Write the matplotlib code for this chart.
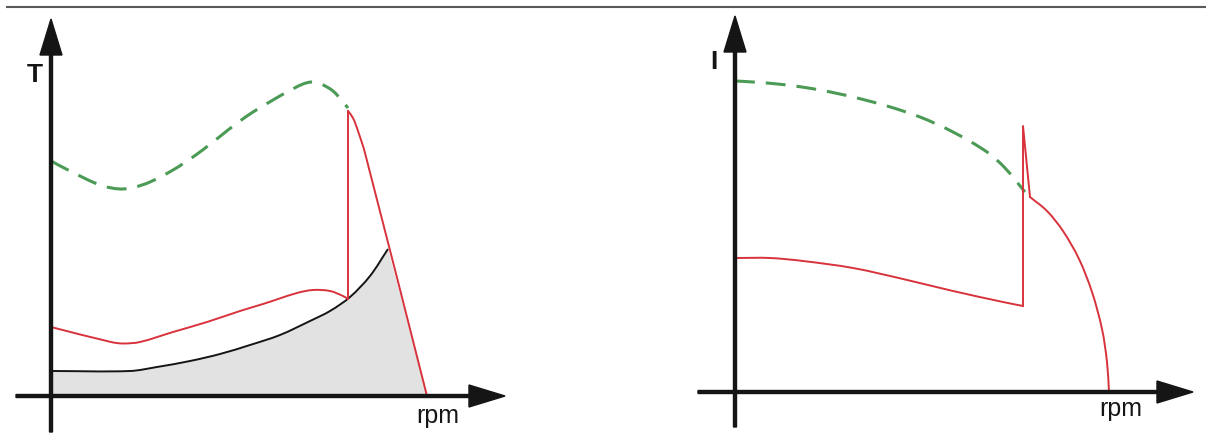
import numpy as np
import matplotlib
matplotlib.use("Agg")
import matplotlib.pyplot as plt
from matplotlib.lines import Line2D
from matplotlib.path import Path
from matplotlib.patches import PathPatch

plt.rcParams['font.family'] = ['Liberation Sans', 'DejaVu Sans']

# torque vs speed (left panel), arbitrary units
t_peak_x = [0, 19, 49, 69, 84, 99, 122, 142, 162, 177, 189, 202, 222, 236, 252, 261, 270, 282, 292, 297]
t_peak_y = [235, 225, 211, 207, 209, 214, 226, 239, 254, 266, 275, 284, 296, 304, 312, 314, 312, 305, 294, 288]

t_boost_x = [297, 302, 307, 314, 376]
t_boost_y = [285, 278, 265, 243, 0]

t_run_x = [0, 60, 72, 89, 122, 156, 189, 212, 246, 262, 279, 292, 297]
t_run_y = [69, 54, 52.5, 54, 64, 74, 85, 92, 103, 106, 105, 100, 97]
t_switch_x = [297, 297]
t_switch_y = [97, 285]

t_load_x = [0, 79, 106, 139, 169, 199, 229, 259, 279, 299, 319, 337]
t_load_y = [25, 25, 29, 35, 42, 51, 61, 75, 85, 99, 120, 147]
t_stop_x = 376

# current vs speed (right panel)
i_peak_x = [0, 18, 52, 85, 118, 152, 185, 218, 252, 270, 290]
i_peak_y = [311, 310, 307, 302, 295, 286, 275, 260, 240, 224, 200]

i_run_x = [0, 35, 68, 118, 168, 218, 268, 288]
i_run_y = [134, 134, 131, 124, 113, 101, 90, 86]
i_spike_x = [288, 288, 295]
i_spike_y = [86, 266, 195]
i_fall_x = [295, 312, 328, 344, 357, 367, 372, 374]
i_fall_y = [195, 181, 161, 133, 100, 63, 30, 0]

GREEN = '#4b9b56'
RED = '#d8323c'
INK = '#151515'


def smooth(x, y):
    # chordal Catmull-Rom through the points, as cubic bezier segments
    p = np.column_stack([x, y]).astype(float)
    dt = np.hypot(*np.diff(p, axis=0).T)
    t = np.r_[0, np.cumsum(dt)]
    m = np.empty_like(p)
    m[0] = (p[1] - p[0]) / dt[0]
    m[-1] = (p[-1] - p[-2]) / dt[-1]
    m[1:-1] = (p[2:] - p[:-2]) / (t[2:] - t[:-2])[:, None]
    verts = [p[0]]
    codes = [Path.MOVETO]
    for i in range(len(p) - 1):
        verts += [p[i] + m[i] * dt[i] / 3, p[i + 1] - m[i + 1] * dt[i] / 3, p[i + 1]]
        codes += [Path.CURVE4] * 3
    return verts, codes


def curve(ax, x, y, **kw):
    verts, codes = smooth(x, y)
    ax.add_patch(PathPatch(Path(verts, codes), fill=False, capstyle='butt', **kw))


fig = plt.figure(figsize=(12.06, 4.35), dpi=100)
fig.add_artist(Line2D([7 / 1206, 1], [1 - 8 / 435, 1 - 8 / 435], color='#5a5a5a', lw=1.5))

ax1 = fig.add_axes([0, 0, 600 / 1206, 421 / 435])
ax1.set_xlim(-51, 549)
ax1.set_ylim(-38, 383)
ax2 = fig.add_axes([603 / 1206, 0, 603 / 1206, 421 / 435])
ax2.set_xlim(-132, 471)
ax2.set_ylim(-42, 379)

for ax in (ax1, ax2):
    ax.set_axis_off()


def draw_axes(ax, x0, x1, y0, y1):
    # 1 data unit == 1 pixel in both directions, so the arrow heads stay square
    kw = dict(width=3, head_width=22, head_length=36, length_includes_head=True,
              color=INK, zorder=5)
    ax.arrow(x0, 0, x1 - x0, 0, **kw)
    ax.arrow(0, y0, 0, y1 - y0, **kw)


dashed = (0, (6.5, 3.6))

# left: torque
verts, codes = smooth(t_load_x, t_load_y)
verts = [(0, 0)] + verts + [(t_stop_x, 0), (0, 0)]
codes = [Path.MOVETO, Path.LINETO] + codes[1:] + [Path.LINETO, Path.CLOSEPOLY]
ax1.add_patch(PathPatch(Path(verts, codes), facecolor='#e2e2e2', lw=0, zorder=1))
curve(ax1, t_load_x, t_load_y, edgecolor=INK, lw=1.4, zorder=3)
curve(ax1, t_peak_x, t_peak_y, edgecolor=GREEN, lw=2.2, linestyle=dashed, zorder=3)
curve(ax1, t_boost_x, t_boost_y, edgecolor=RED, lw=1.4, zorder=4)
curve(ax1, t_run_x, t_run_y, edgecolor=RED, lw=1.4, zorder=4)
ax1.plot(t_switch_x, t_switch_y, color=RED, lw=1.4, zorder=4)
draw_axes(ax1, -35, 454, -36, 377)
ax1.text(-16, 322, 'T', fontsize=19, fontweight='bold', ha='center', va='center', color=INK)
ax1.text(387, -19, 'rpm', fontsize=18, ha='center', va='center', color=INK)

# right: current
curve(ax2, i_peak_x, i_peak_y, edgecolor=GREEN, lw=2.2, linestyle=dashed, zorder=3)
curve(ax2, i_run_x, i_run_y, edgecolor=RED, lw=1.4, zorder=4)
ax2.plot(i_spike_x, i_spike_y, color=RED, lw=1.4, zorder=4)
curve(ax2, i_fall_x, i_fall_y, edgecolor=RED, lw=1.4, zorder=4)
draw_axes(ax2, -37, 458, -35, 376)
ax2.text(-21, 331, 'I', fontsize=19, fontweight='bold', ha='center', va='center', color=INK)
ax2.text(386, -16, 'rpm', fontsize=18, ha='center', va='center', color=INK)

fig.savefig('out.png', dpi=100, facecolor='white')
